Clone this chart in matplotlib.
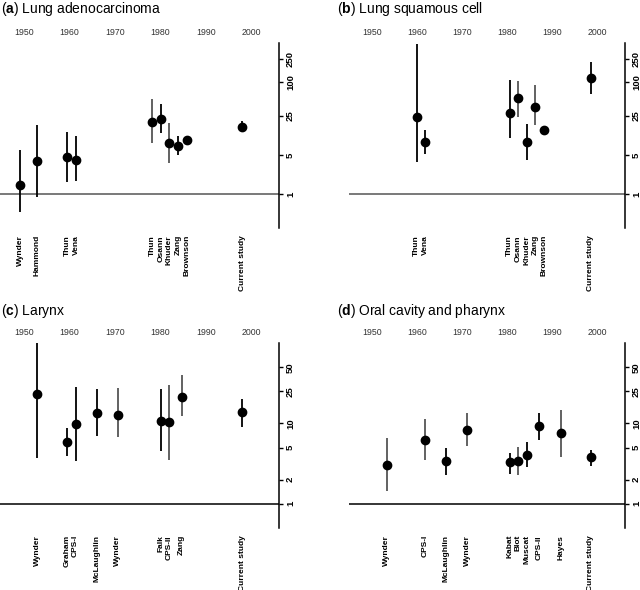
import matplotlib
matplotlib.use("Agg")
import matplotlib.pyplot as plt
import matplotlib.transforms as mtransforms

plt.rcParams["font.family"] = ["Liberation Sans", "DejaVu Sans"]
plt.rcParams["mathtext.fontset"] = "custom"
plt.rcParams["mathtext.bf"] = "Liberation Sans:bold"
plt.rcParams["mathtext.rm"] = "Liberation Sans"

BLACK = "#000000"
GREY = "#555555"

# (a) Lung adenocarcinoma
a_names = ["Wynder", "Hammond", "Thun", "Vena", "Thun", "Osann", "Khuder", "Zang", "Brownson", "Current study"]
a_year = [1949.3, 1953.0, 1959.6, 1961.5, 1978.2, 1980.2, 1982.0, 1983.9, 1985.8, 1998.0]
a_rr = [1.45, 3.9, 4.6, 4.1, 19.1, 21.9, 8.2, 7.2, 9.1, 15.7]
a_lo = [0.48, 0.88, 1.63, 1.73, 8.3, 12.5, 3.6, 5.0, 7.75, 12.7]
a_hi = [6.0, 17.1, 12.7, 10.9, 49.6, 40.4, 18.8, 10.7, 10.6, 19.9]
a_col = [BLACK, BLACK, BLACK, BLACK, GREY, BLACK, GREY, BLACK, BLACK, BLACK]

# (b) Lung squamous cell
b_names = ["Thun", "Vena", "Thun", "Osann", "Khuder", "Zang", "Brownson", "Current study"]
b_year = [1959.8, 1961.7, 1980.5, 1982.4, 1984.3, 1986.2, 1988.1, 1998.5]
b_rr = [23.3, 8.4, 27.8, 50.6, 8.6, 35.5, 13.7, 116]
b_lo = [3.8, 5.2, 10.1, 23.9, 4.1, 17.3, 12.1, 61]
b_hi = [480, 13.9, 107, 105, 17.9, 86, 16.1, 223]
b_col = [BLACK, BLACK, BLACK, GREY, BLACK, GREY, BLACK, BLACK]

# (c) Larynx
c_names = ["Wynder", "Graham", "CPS-I", "McLaughlin", "Wynder", "Falk", "CPS-II", "Zang", "Current study"]
c_year = [1953.0, 1959.5, 1961.4, 1966.1, 1970.7, 1980.1, 1982.0, 1984.7, 1998.0]
c_rr = [23.3, 5.84, 9.95, 13.6, 12.9, 10.6, 10.5, 21.3, 13.8]
c_lo = [3.73, 3.91, 3.45, 6.93, 6.73, 4.6, 3.55, 12.3, 9.14]
c_hi = [99, 8.7, 28.7, 26.8, 27.6, 27.1, 30.4, 39.7, 20.0]
c_col = [BLACK, BLACK, BLACK, BLACK, GREY, BLACK, GREY, GREY, BLACK]

# (d) Oral cavity and pharynx
d_names = ["Wynder", "CPS-I", "McLaughlin", "Wynder", "Kabat", "Blot", "Muscat", "CPS-II", "Hayes", "Current study"]
d_year = [1953.2, 1961.7, 1966.3, 1971.1, 1980.5, 1982.4, 1984.3, 1987.1, 1991.8, 1998.5]
d_rr = [3.08, 6.3, 3.39, 8.3, 3.29, 3.39, 4.1, 9.3, 7.55, 3.8]
d_lo = [1.46, 3.52, 2.27, 5.2, 2.38, 2.27, 2.85, 6.3, 3.87, 2.94]
d_hi = [6.67, 11.3, 5.01, 13.5, 4.3, 5.15, 5.89, 13.5, 14.6, 4.73]
d_col = [GREY, GREY, BLACK, GREY, BLACK, GREY, BLACK, BLACK, GREY, BLACK]

decades = [1950, 1960, 1970, 1980, 1990, 2000]
lung_ticks = [1, 5, 25, 100, 250]
head_ticks = [1, 2, 5, 10, 25, 50]

panels = [
    ("a", "Lung adenocarcinoma", a_names, a_year, a_rr, a_lo, a_hi, a_col, lung_ticks, (0.25, 490), GREY),
    ("b", "Lung squamous cell", b_names, b_year, b_rr, b_lo, b_hi, b_col, lung_ticks, (0.25, 490), GREY),
    ("c", "Larynx", c_names, c_year, c_rr, c_lo, c_hi, c_col, head_ticks, (0.5, 100), BLACK),
    ("d", "Oral cavity and pharynx", d_names, d_year, d_rr, d_lo, d_hi, d_col, head_ticks, (0.5, 100), BLACK),
]

W, H = 640, 590
fig = plt.figure(figsize=(6.4, 5.9), dpi=100)

# axes boxes in pixels: left, top, right, bottom
boxes = [(0, 43, 279, 228), (349, 43, 625, 228), (0, 343, 279, 528), (349, 343, 625, 528)]
title_pos = [(1, 9), (337, 9), (1, 311), (337, 311)]

for (letter, title, names, years, rr, lo, hi, cols, yt, ylim, hcol), box, tp in zip(panels, boxes, title_pos):
    l, t, r, b = box
    ax = fig.add_axes([l / W, 1 - b / H, (r - l) / W, (b - t) / H])
    ax.set_yscale("log")
    ax.set_ylim(*ylim)
    ax.set_xlim(1944.8, 2006.1)

    ax.axhline(1, color=hcol, lw=1.1, zorder=1)
    for x, y, y0, y1, c in zip(years, rr, lo, hi, cols):
        ax.plot([x, x], [y0, y1], color=c, lw=1.3, solid_capstyle="butt", zorder=2)
    ax.plot(years, rr, "o", color="black", ms=6, zorder=3, clip_on=False)

    for s in ["left", "top", "bottom"]:
        ax.spines[s].set_visible(False)
    ax.spines["right"].set_linewidth(1.1)

    ax.yaxis.tick_right()
    ax.set_yticks(yt)
    ax.set_yticklabels([str(v) for v in yt], rotation=90, va="center",
                       fontsize=6.8, fontweight="bold")
    ax.yaxis.set_minor_locator(matplotlib.ticker.NullLocator())
    ax.tick_params(axis="y", direction="out", length=3, width=1, pad=2)

    ax.xaxis.tick_top()
    ax.set_xticks(decades)
    ax.set_xticklabels([str(d) for d in decades], fontsize=6.3, color="#333333")
    ax.tick_params(axis="x", length=0, pad=4)

    trans = mtransforms.blended_transform_factory(ax.transData, ax.transAxes)
    for x, name in zip(years, names):
        ax.text(x, -7 / (b - t), name, transform=trans, rotation=90, ha="center", va="top",
                fontsize=6.0, fontweight="bold")

    fig.text(tp[0] / W, 1 - tp[1] / H, r"($\mathbf{" + letter + r"}$) " + title,
             fontsize=10, ha="left", va="center")

fig.savefig("out.png", dpi=100)
